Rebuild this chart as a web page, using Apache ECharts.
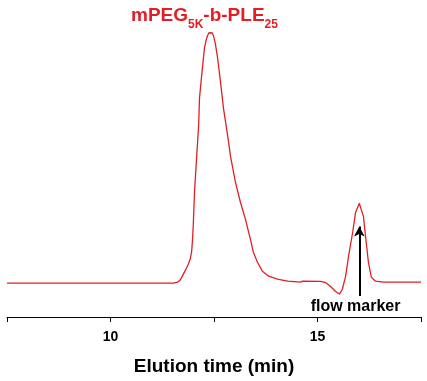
<!DOCTYPE html>
<html><head><meta charset="utf-8">
<script src="https://cdn.jsdelivr.net/npm/echarts@6/dist/echarts.min.js"></script>
<style>html,body{margin:0;padding:0;background:#fff}#c{width:427px;height:381px}</style>
</head><body><div id="c"></div>
<script>
const time = [7.5,9.76,11.52,11.62,11.69,11.76,11.83,11.88,11.93,11.96,11.98,12.0,12.03,12.08,12.13,12.15,12.22,12.27,12.31,12.34,12.38,12.42,12.46,12.49,12.53,12.58,12.66,12.73,12.83,12.9,13.02,13.14,13.26,13.38,13.45,13.55,13.67,13.82,14.03,14.28,14.59,14.64,15.07,15.2,15.31,15.43,15.53,15.6,15.68,15.75,15.85,15.92,16.01,16.11,16.16,16.23,16.3,16.4,16.59,17.5];
const signal = [0,0,0,0.4,1.4,3.6,5.8,7.5,9.8,12.6,17.0,23.3,36.4,49.8,62.8,73.5,85.4,93.3,96.4,98.0,99.3,100,99.2,98.0,95.2,90.1,79.4,69.2,58.5,50.2,39.9,32.0,25.3,17.4,12.3,8.3,4.7,2.8,1.6,0.8,0.4,0.8,0.7,0.2,-1.2,-3.2,-4.3,-2.4,2.8,10.7,20.2,28.1,31.6,26.5,18.6,8.3,2.4,0.8,0.4,0.4];
const tickLabels = [10, 15];
const markerTime = 16.01;
const arrowRange = [-5.1, 22.5];
const markerLabelPos = [15.92, -9.1];

const chart = echarts.init(document.getElementById('c'));
const font = '"Liberation Sans", Arial, sans-serif';
const red = '#e31e24';
chart.setOption({
  animation: false,
  grid: {left: 7, right: 6, top: 31, bottom: 63, containLabel: false},
  graphic: [{
    type: 'text', left: 131, top: 6,
    style: {
      text: '{m|mPEG}{s|5K}{m|-b-PLE}{s|25}',
      rich: {
        m: {fontSize: 19, lineHeight: 19, fontWeight: 'bold', fill: red, fontFamily: font, padding: [0, 0, 6, 0], verticalAlign: 'bottom'},
        s: {fontSize: 12, lineHeight: 12, fontWeight: 'bold', fill: red, fontFamily: font, verticalAlign: 'bottom'}
      }
    }
  }],
  xAxis: {
    type: 'value', min: 7.5, max: 17.5, interval: 2.5,
    axisLine: {show: true, onZero: false, lineStyle: {color: '#000', width: 1}},
    axisTick: {show: true, length: 5, inside: false, lineStyle: {color: '#000'}},
    splitLine: {show: false},
    axisLabel: {
      color: '#000', fontSize: 14, fontWeight: 'bold', fontFamily: font, margin: 13,
      formatter: v => tickLabels.includes(v) ? String(v) : ''
    },
    name: 'Elution time (min)', nameLocation: 'middle', nameGap: 40,
    nameTextStyle: {color: '#000', fontSize: 19, fontWeight: 'bold', fontFamily: font}
  },
  yAxis: {
    type: 'value', min: -13.4, max: 100, show: false
  },
  series: [{
    type: 'line', data: time.map((t, i) => [t, signal[i]]),
    smooth: false, symbol: 'none',
    lineStyle: {color: red, width: 1.3, join: 'round'},
    markLine: {
      silent: true, symbol: ['none', 'arrow'], symbolSize: [8, 10],
      label: {show: false},
      lineStyle: {color: '#000', width: 2, type: 'solid'},
      data: [[{coord: [markerTime, arrowRange[0]]}, {coord: [markerTime, arrowRange[1]]}]]
    },
    markPoint: {
      silent: true, symbol: 'circle', symbolSize: 0,
      label: {show: true, formatter: 'flow marker', color: '#000', fontSize: 16, fontWeight: 'bold', fontFamily: font, position: 'inside'},
      data: [{coord: markerLabelPos}]
    }
  }]
});
</script></body></html>
